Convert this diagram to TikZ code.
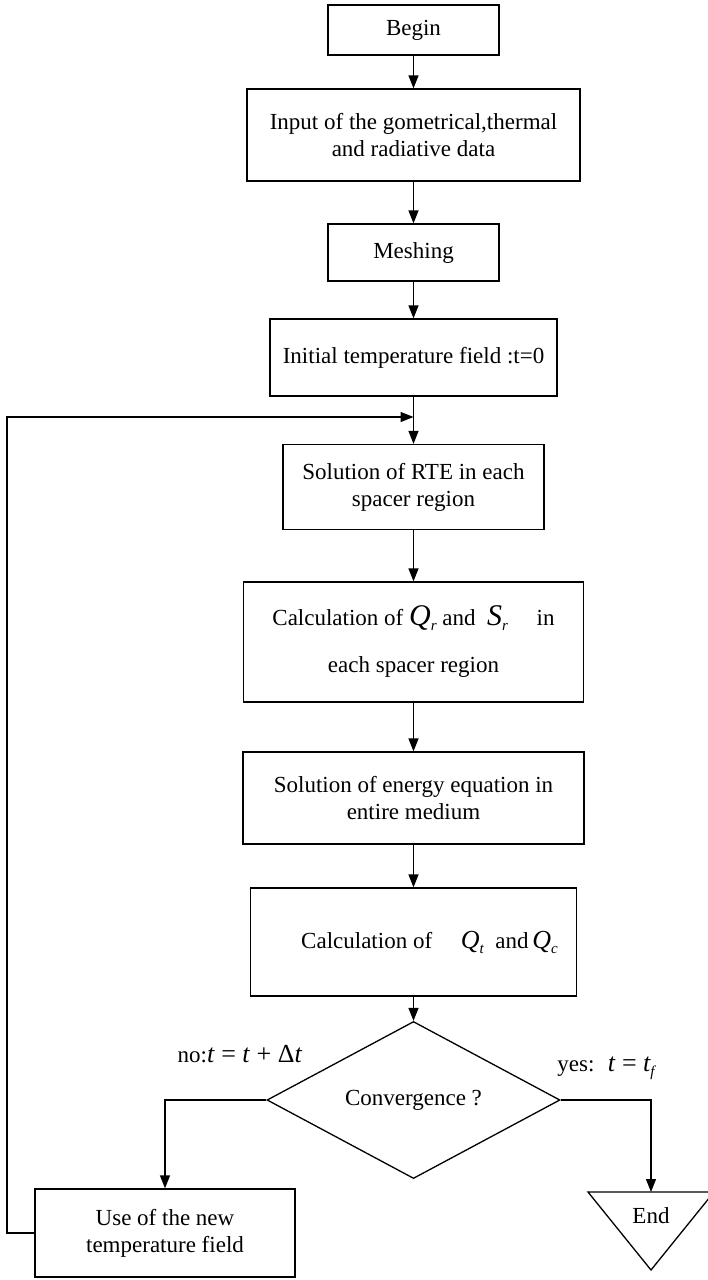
\documentclass[tikz,border=0pt]{standalone}
\usepackage{fontspec}
\setmainfont{Liberation Serif}
\usetikzlibrary{arrows.meta,shapes.geometric}
\newcommand\symb[3][30]{{\fontsize{#1}{#1}\selectfont\itshape #2}\raisebox{-5pt}{\fontsize{15}{15}\selectfont\itshape #3}}
\newcommand\mt[1]{{\fontsize{26}{26}\selectfont #1}}
\begin{document}
\begin{tikzpicture}[x=1pt,y=-1pt,
  font=\fontsize{23}{27}\selectfont,
  box/.style={draw, line width=1.3pt, align=center, inner sep=0pt},
  ln/.style={line width=1.3pt},
  arr/.style={line width=1.3pt, -{Triangle[length=13pt,width=10pt]}}]
\fill[white] (0,0) rectangle (708,1280);
\useasboundingbox (0,0) rectangle (708,1280);

\node[box, minimum width=171pt, minimum height=50pt] (begin) at (413.5,30) {Begin};
\node[box, minimum width=333pt, minimum height=92pt] (input) at (413.5,135) {Input of the gometrical,thermal\\and radiative data};
\node[box, minimum width=171pt, minimum height=57pt] (mesh) at (413.5,252.5) {Meshing};
\node[box, minimum width=287pt, minimum height=77pt] (init) at (413.5,357.5) {Initial temperature field :t=0};
\node[box, minimum width=261pt, minimum height=85pt] (rte) at (413.5,487) {Solution of RTE in each\\spacer region};
\node[box, minimum width=340pt, minimum height=120pt] (qr) at (413.5,642) {Calculation of \symb{Q}{r} and \ \symb{S}{r} \quad in\\[20pt] each spacer region};
\node[box, minimum width=341pt, minimum height=92pt] (energy) at (413.5,798) {Solution of energy equation in\\entire medium};
\node[box, minimum width=326pt, minimum height=108pt] (qt) at (413.5,942) {\hspace*{32pt}Calculation of \quad\symb[26]{Q}{t} \ and\,\symb[26]{Q}{c}};
\node[diamond, draw, line width=1.3pt, minimum width=293pt, minimum height=142pt, inner sep=0pt] (conv) at (413.5,1100) {Convergence ?};
\node[box, minimum width=260pt, minimum height=88pt] (use) at (165,1233) {Use of the new\\temperature field};

\draw[ln, line join=miter] (588,1192) -- (714,1192) -- (651,1270) -- cycle;
\node (endl) at (651,1216) {End};
\coordinate (endtop) at (651,1192);

\node (nolbl) at (240,1054) {no:\mt{\textit{t} = \textit{t} + Δ\textit{t}}};
\node (yeslbl) at (606,1068) {yes: \ \mt{\textit{t} = \symb[26]{t}{f}}};

\draw[arr] (begin) -- (input);
\draw[arr] (input) -- (mesh);
\draw[arr] (mesh) -- (init);
\draw[arr] (init) -- (rte);
\draw[arr] (rte) -- (qr);
\draw[arr] (qr) -- (energy);
\draw[arr] (energy) -- (qt);
\draw[arr] (qt) -- (conv);
\draw[arr] (conv.west) -| (use.north);
\draw[arr] (conv.east) -| (endtop);
\coordinate (loopL) at (7,1233);
\coordinate (join) at (413.5,417);
\draw[arr] (use.west) -- (loopL) |- (join);
\end{tikzpicture}
\end{document}
